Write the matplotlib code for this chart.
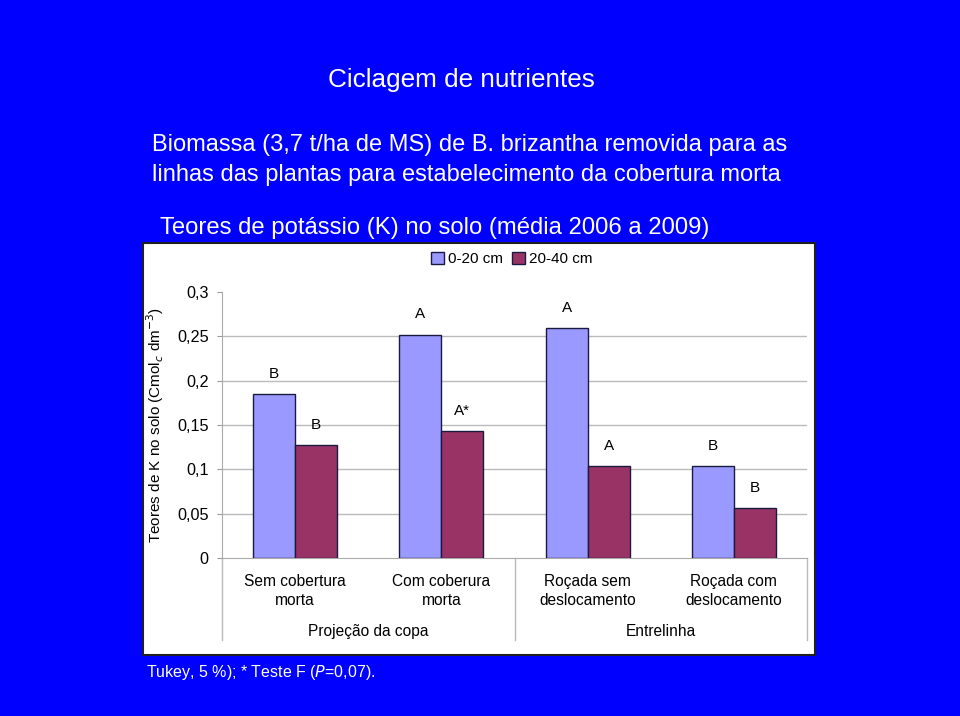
import matplotlib
matplotlib.use("Agg")
import matplotlib.pyplot as plt
import numpy as np
from matplotlib.patches import Rectangle, Patch

plt.rcParams['font.family'] = ['Liberation Sans', 'DejaVu Sans']

# data
categories = ["Sem cobertura\nmorta", "Com coberura\nmorta",
              "Roçada sem\ndeslocamento", "Roçada com\ndeslocamento"]
groups = ["Projeção da copa", "Entrelinha"]
depth_0_20 = [0.185, 0.252, 0.259, 0.104]
depth_20_40 = [0.127, 0.143, 0.104, 0.056]
letters_0_20 = ["B", "A", "A", "B"]
letters_20_40 = ["B", "A*", "A", "B"]
yticks = [0, 0.05, 0.1, 0.15, 0.2, 0.25, 0.3]
ytick_labels = ["0", "0,05", "0,1", "0,15", "0,2", "0,25", "0,3"]

W, H = 960, 716
fig = plt.figure(figsize=(9.6, 7.16), dpi=100)
fig.patch.set_facecolor('#0000FF')

def fx(px):
    return px / W

def fy(py):
    return 1 - py / H

# slide texts
fig.text(fx(461), fy(80), "Ciclagem de nutrientes", color='white', fontsize=18.8,
         ha='center', va='center')
fig.text(fx(152), fy(145), "Biomassa (3,7 t/ha de MS) de B. brizantha removida para as",
         color='white', fontsize=17, ha='left', va='center')
fig.text(fx(152), fy(175), "linhas das plantas para estabelecimento da cobertura morta",
         color='white', fontsize=17, ha='left', va='center')
fig.text(fx(160), fy(228), "Teores de potássio (K) no solo (média 2006 a 2009)",
         color='white', fontsize=17.2, ha='left', va='center')
fig.text(fx(146), fy(673), "Tukey, 5 %); * Teste F ($\\it{P}$=0,07).",
         color='white', fontsize=11.5, ha='left', va='center')

# white chart box
box = Rectangle((fx(143), fy(655)), fx(815) - fx(143), fy(243) - fy(655),
                transform=fig.transFigure, facecolor='white', edgecolor='#202020',
                linewidth=1.5, zorder=-5)
fig.add_artist(box)

ax = fig.add_axes([fx(222), fy(558), fx(807) - fx(222), fy(292) - fy(558)])
ax.set_facecolor('none')
ax.set_zorder(2)

x = np.arange(len(categories))
bw = 0.287
ax.bar(x - bw / 2, depth_0_20, bw, color='#9999FF', edgecolor='#1a1a40',
       linewidth=1, label='0-20 cm', zorder=3)
ax.bar(x + bw / 2, depth_20_40, bw, color='#993366', edgecolor='#1a1a40',
       linewidth=1, label='20-40 cm', zorder=3)

for xi, v, t in zip(x - bw / 2, depth_0_20, letters_0_20):
    ax.annotate(t, (xi, v), xytext=(0, 14.5), textcoords='offset points',
                ha='center', va='center', fontsize=11)
for xi, v, t in zip(x + bw / 2, depth_20_40, letters_20_40):
    ax.annotate(t, (xi, v), xytext=(0, 14.5), textcoords='offset points',
                ha='center', va='center', fontsize=11)

ax.set_xlim(-0.5, 3.5)
ax.set_ylim(0, 0.3)
ax.set_yticks(yticks)
ax.set_yticklabels(ytick_labels, fontsize=11.7)
ax.tick_params(axis='y', length=3.6, color='#999999', pad=6)
ax.set_xticks([])
for y in yticks[1:-1]:
    ax.axhline(y, color='#BBBBBB', linewidth=1, zorder=1)
for s in ['top', 'right']:
    ax.spines[s].set_visible(False)
ax.spines['left'].set_color('#AAAAAA')
ax.spines['bottom'].set_color('#AAAAAA')

# category labels and multi-level axis
trans = ax.get_xaxis_transform()
for xi, lab in zip(x, categories):
    ax.text(xi, -0.124, lab, transform=trans, ha='center', va='center',
            fontsize=11.2, linespacing=1.3)
ax.text(0.5, -0.275, groups[0], transform=trans, ha='center', va='center', fontsize=11.2)
ax.text(2.5, -0.275, groups[1], transform=trans, ha='center', va='center', fontsize=11.2)
for xs in [-0.5, 1.5, 3.5]:
    ax.plot([xs, xs], [0, -0.31], transform=trans, color='#BBBBBB',
            linewidth=1, clip_on=False)

ax.set_ylabel("Teores de K no solo (Cmol$_c$ dm$^{-3}$)", fontsize=11, va='center')
ax.yaxis.set_label_coords(-0.1145, 0.5)

fig.legend(handles=[Patch(facecolor='#9999FF', edgecolor='#1a1a40', label='0-20 cm'),
                    Patch(facecolor='#993366', edgecolor='#1a1a40', label='20-40 cm')],
           loc='center', bbox_to_anchor=(fx(512), fy(259)), ncol=2, frameon=False,
           fontsize=11, handlelength=0.8, handleheight=0.8, handletextpad=0.3,
           columnspacing=0.6)

fig.savefig("out.png", dpi=100, facecolor=fig.get_facecolor())
